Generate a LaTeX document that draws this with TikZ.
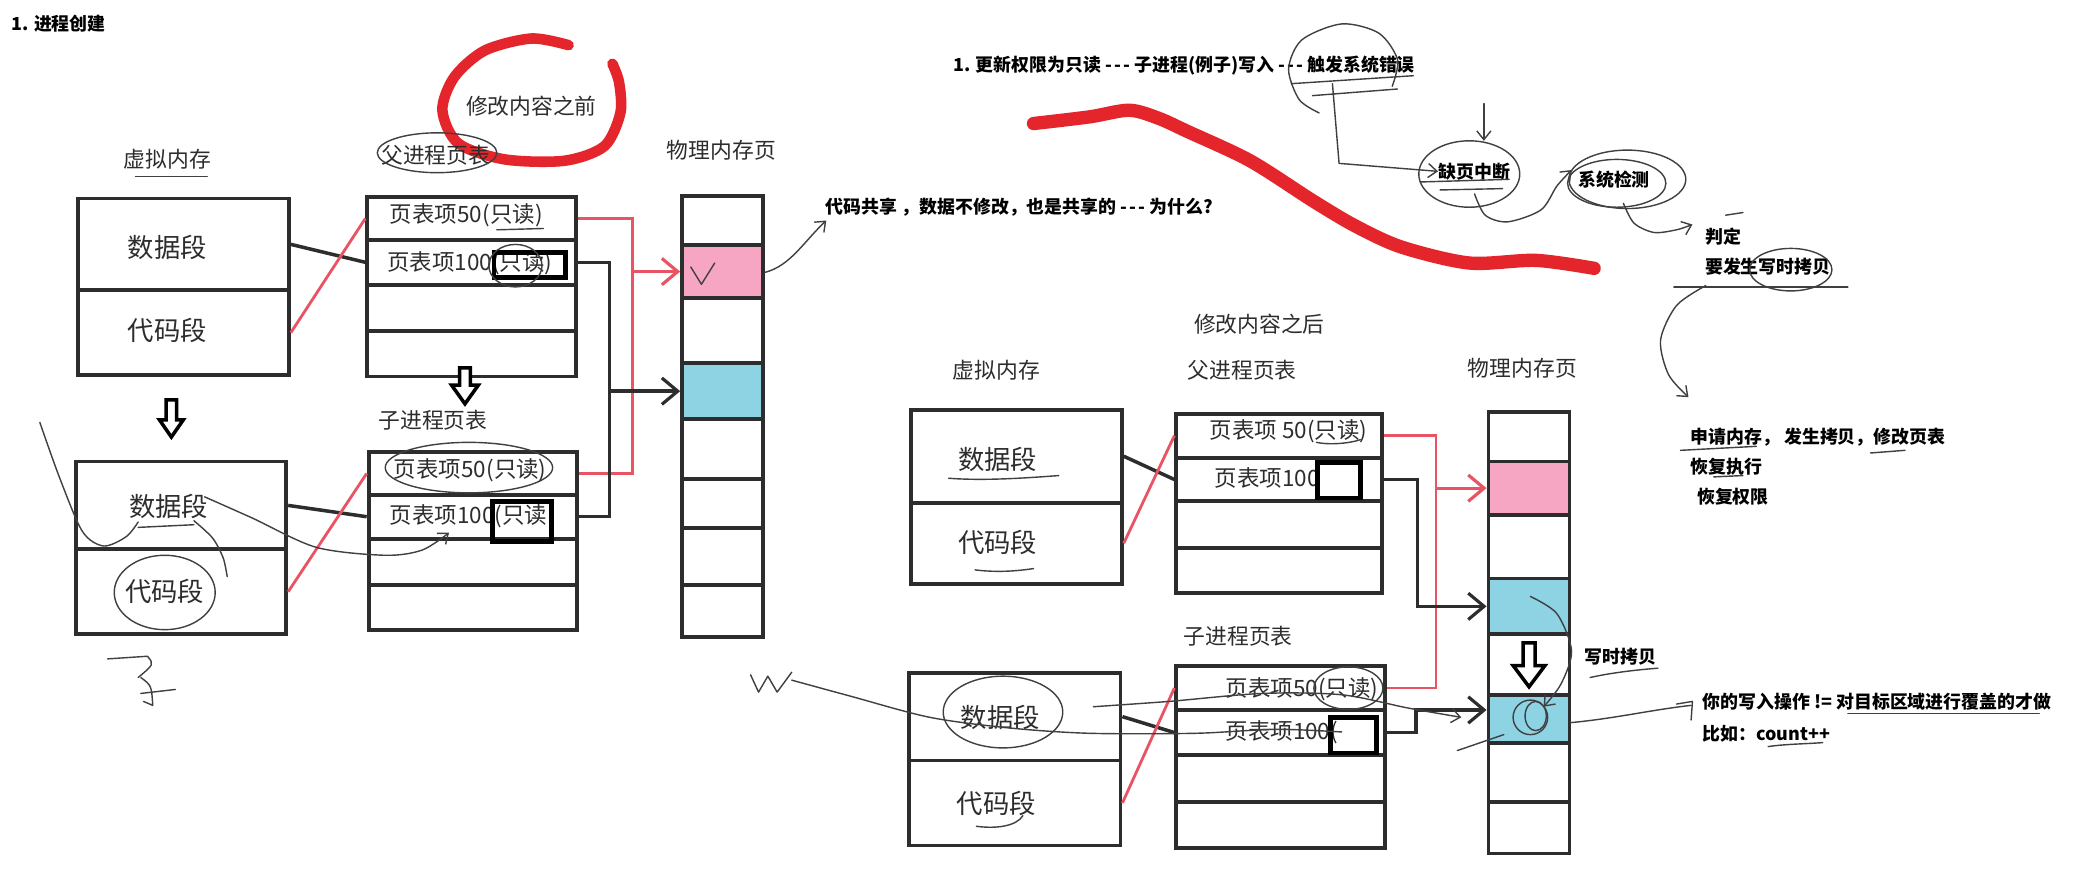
\documentclass[tikz,border=0pt]{standalone}
\usepackage{fontspec}
\newfontfamily\cjk{Noto Sans CJK SC}
\usetikzlibrary{arrows.meta,calc}
\definecolor{pinkc}{RGB}{246,166,194}
\definecolor{bluec}{RGB}{141,211,227}
\definecolor{redl}{RGB}{232,84,100}
\definecolor{markr}{RGB}{228,38,44}
\definecolor{ink}{RGB}{45,45,45}
\newcommand\ddd{\mbox{-}\kern0.12em\mbox{-}\kern0.12em\mbox{-}}
\tikzset{
 sz/.style 2 args={minimum width=#1*0.378pt, minimum height=#2*0.378pt},
 cell/.style={draw=ink, line width=1.1pt, inner sep=0pt, anchor=north west},
 robox/.style={draw=black, line width=1.4pt, inner sep=0pt, anchor=north west},
 lab/.style={font=\cjk\fontsize{6.2}{7}\selectfont, text=ink, inner sep=0pt},
 seg/.style={font=\cjk\fontsize{7.5}{8}\selectfont, text=ink, inner sep=0pt},
 rowt/.style={font=\cjk\fontsize{6.4}{7}\selectfont, text=ink, inner sep=0pt},
 note/.style={font=\cjk\bfseries\fontsize{5.1}{6}\selectfont, text=black, inner sep=0pt},
 hand/.style={draw=black!75, line width=0.4pt, line cap=round, line join=round},
 redc/.style={draw=redl, line width=0.8pt},
 blkc/.style={draw=ink, line width=1pt},
 tip/.style={-{Straight Barb[length=4.5pt,width=7.5pt,line width=0.9pt]}},
 smalltip/.style={-{Straight Barb[length=2.5pt,width=4pt]}},
 marker/.style={draw=markr, line width=3.8pt, line cap=round, line join=round},
 hollow/.style={draw=black, line width=1pt, fill=white, line join=miter},
}
\begin{document}
\begin{tikzpicture}[x=0.378pt,y=-0.378pt]
\fill[white] (0,0) rectangle (1568,674);
\useasboundingbox (0,0) rectangle (1568,674);

% ---------- title ----------
\node[note, anchor=west] (title) at (8,18) {1. 进程创建};

% ---------- LEFT: before ----------
\draw[marker, line width=3pt] plot[smooth] coordinates {(428,34) (400,29) (365,38) (342,58) (333,83) (345,108) (380,120) (425,121) (455,110) (467,85) (466,62) (461,48)};
\node[lab] (before) at (400,80) {修改内容之前};
\node[lab] (vmlab) at (126,120) {虚拟内存};
\node[lab] (pptlab) at (328,117) {父进程页表};
\node[lab] (pmlab) at (543,113) {物理内存页};
\node[lab] (cptlab) at (326,316) {子进程页表};

% virtual memory boxes
\node[cell, sz={159}{69}] (lvd) at (57,148) {};
\node[cell, sz={159}{64}] (lvc) at (57,217) {};
\node[cell, sz={158}{66}] (mvd) at (56,346) {};
\node[cell, sz={158}{64}] (mvc) at (56,412) {};
\node[seg] (lt1) at (126,186) {数据段};
\node[seg] (lt2) at (126,249) {代码段};
\node[seg] (lt3) at (127,381) {数据段};
\node[seg] (lt4) at (124,445) {代码段};

% parent page table (left)
\node[cell, sz={157}{32}] (pp1) at (275,147) {};
\node[cell, sz={157}{34}] (pp2) at (275,179) {};
\node[cell, sz={157}{35}] (pp3) at (275,213) {};
\node[cell, sz={157}{34}] (pp4) at (275,248) {};
\node[rowt] (pr1) at (351,162) {页表项50(只读)};
\node[rowt, anchor=west] (pr2) at (291,198) {页表项100(只读)};
\node[robox, sz={54}{19}] (ro1) at (370,188) {};

% child page table (left)
\node[cell, sz={157}{32}] (cp1) at (276,339) {};
\node[cell, sz={157}{33}] (cp2) at (276,371) {};
\node[cell, sz={157}{35}] (cp3) at (276,404) {};
\node[cell, sz={157}{34}] (cp4) at (276,439) {};
\node[rowt] (cr1) at (354,354) {页表项50(只读)};
\node[rowt, anchor=west] (cr2) at (293,389) {页表项100(只读};
\node[robox, sz={44}{30}] (ro2) at (369,376) {};

% physical memory (left)
\node[cell, sz={61}{37}] (pm1) at (512,146) {};
\node[cell, sz={61}{40}, fill=pinkc] (pm2) at (512,183) {};
\node[cell, sz={61}{49}] (pm3) at (512,223) {};
\node[cell, sz={61}{42}, fill=bluec] (pm4) at (512,272) {};
\node[cell, sz={61}{45}] (pm5) at (512,314) {};
\node[cell, sz={61}{37}] (pm6) at (512,359) {};
\node[cell, sz={61}{43}] (pm7) at (512,396) {};
\node[cell, sz={61}{39}] (pm8) at (512,439) {};

% hollow arrows (left)
\draw[hollow, shift={(129,301)}] (-4,0) -- (4,0) -- (4,15) -- (9,15) -- (0,28) -- (-9,15) -- (-4,15) -- cycle;
\draw[hollow, shift={(350,277)}] (-4,0) -- (4,0) -- (4,13) -- (10,13) -- (0,27) -- (-10,13) -- (-4,13) -- cycle;

% connectors (left)
\draw[blkc] (lvd.east) -- (pp2.west);
\draw[redc] (lvc.east) -- (pp1.west);
\draw[blkc] (mvd.east) -- (cp2.west);
\draw[redc] (mvc.east) -- (cp1.west);
\coordinate (rjA) at ($(pp1.east)+(41,0)$);
\draw[redc] (pp1.east) -- (rjA) |- (cp1.east);
\draw[redc, tip] (rjA |- pm2.west) -- (pm2.west);
\coordinate (bjA) at ($(pp2.east)+(24,0)$);
\draw[blkc] (pp2.east) -- (bjA) |- (cp2.east);
\draw[blkc, tip] (bjA |- pm4.west) -- (pm4.west);

% annotation (left)
\draw[hand] (520,201) -- (528,214) -- (538,198);
\node[note, anchor=west] (q1) at (621,156) {代码共享 ，数据不修改，也是共享的 \ddd{} 为什么?};
\draw[hand, smalltip] (576,205) .. controls (595,200) and (605,182) .. (622,166);

% hand marks (left)
\draw[hand] (102,133) -- (156,133);
\draw[hand] (329,115) ellipse [x radius=45, y radius=15];
\draw[hand] (374,173) -- (409,172);
\draw[hand] (388,200) ellipse [x radius=20, y radius=16];
\draw[hand] (353,352) ellipse [x radius=63, y radius=19];
\draw[hand] plot[smooth] coordinates {(30,318) (45,360) (62,400) (78,411) (95,404) (104,393)};
\draw[hand] (104,397) -- (146,395);
\draw[hand] plot[smooth] coordinates {(146,392) (160,405) (168,420) (171,434)};
\draw[hand, smalltip] plot[smooth] coordinates {(154,374) (190,390) (238,412) (290,418) (318,414) (338,401)};
\draw[hand] (124,446) ellipse [x radius=38, y radius=28];
\draw[hand] (81,496) -- (111,494) .. controls (116,500) .. (104,510);
\draw[hand] (106,522) -- (132,519);
\draw[hand] (106,510) .. controls (114,516) .. (115,531) -- (108,528);

% ---------- TOP RIGHT notes ----------
\draw[marker] plot[smooth] coordinates {(778,93) (820,88) (850,83) (872,89) (894,99) (941,121) (988,151) (1020,170) (1055,186) (1106,198) (1156,196) (1200,202)};
\node[note, anchor=west] (n1) at (717,49) {1. 更新权限为只读 \ddd{} 子进程(例子)写入 \ddd{} 触发系统错误};
\draw[hand] plot[smooth] coordinates {(993,85) (978,75) (970,52) (980,30) (1010,18) (1038,25) (1052,45) (1048,65)};
\draw[hand] (972,63) -- (1064,57);
\draw[hand] (988,72) -- (1052,67);
\node[note] (n2) at (1110,129) {缺页中断};
\draw[hand, smalltip] (1003,63) -- (1008,123) -- (n2.west);
\draw[hand, smalltip] (1117,78) -- (1117,106);
\draw[hand] (1106,131) ellipse [x radius=38, y radius=25];
\draw[hand] (1069,137) -- (1136,135);
\draw[hand] (1084,143) -- (1131,142);
\node[note] (n3) at (1215,135) {系统检测};
\draw[hand, smalltip] plot[smooth] coordinates {(1110,146) (1118,162) (1135,167) (1160,158) (1172,140) (1183,128)};
\draw[hand] (1225,135) ellipse [x radius=44, y radius=22];
\draw[hand] (1217,138) ellipse [x radius=37, y radius=18];
\node[note, anchor=west] (n4) at (1283,178) {判定};
\node[note, anchor=west] (n5) at (1283,201) {要发生写时拷贝};
\draw[hand, smalltip] plot[smooth] coordinates {(1222,153) (1230,168) (1245,175) (1262,173) (1274,169)};
\draw[hand] (1299,162) -- (1312,160);
\draw[hand] (1348,203) ellipse [x radius=31, y radius=16];
\draw[hand] (1260,216) -- (1391,216);
\draw[hand, smalltip] plot[smooth] coordinates {(1284,215) (1262,230) (1250,256) (1256,282) (1271,299)};
\node[note, anchor=west] (n6) at (1272,329) {申请内存， 发生拷贝，修改页表};
\node[note, anchor=west] (n7) at (1272,351) {恢复执行};
\node[note, anchor=west] (n8) at (1277,374) {恢复权限};
\draw[hand] (1265,339) -- (1322,336);
\draw[hand] (1408,341) -- (1434,339);
\draw[hand] (1290,359) -- (1312,358);

% ---------- RIGHT: after ----------
\node[lab] (after) at (948,244) {修改内容之后};
\node[lab] (vmlab2) at (750,279) {虚拟内存};
\node[lab] (pptlab2) at (935,279) {父进程页表};
\node[lab] (pmlab2) at (1146,277) {物理内存页};
\node[lab] (cptlab2) at (932,479) {子进程页表};

\node[cell, sz={159}{70}] (rvd) at (684,307) {};
\node[cell, sz={159}{61}] (rvc) at (684,377) {};
\node[cell, sz={159}{66}] (svd) at (683,505) {};
\node[cell, sz={159}{64}] (svc) at (683,571) {};
\node[seg] (rt1) at (751,346) {数据段};
\node[seg] (rt2) at (751,408) {代码段};
\node[seg] (rt3) at (753,540) {数据段};
\node[seg] (rt4) at (750,605) {代码段};

\node[cell, sz={155}{33}] (pq1) at (884,310) {};
\node[cell, sz={155}{33}] (pq2) at (884,343) {};
\node[cell, sz={155}{35}] (pq3) at (884,376) {};
\node[cell, sz={155}{34}] (pq4) at (884,411) {};
\node[rowt] (prr1) at (970,325) {页表项 50(只读)};
\node[rowt, anchor=west] (prr2) at (914,360) {页表项100};
\node[robox, sz={32}{27}] (ro3) at (990,346) {};

\node[cell, sz={157}{33}] (cq1) at (884,500) {};
\node[cell, sz={157}{34}] (cq2) at (884,533) {};
\node[cell, sz={157}{35}] (cq3) at (884,567) {};
\node[cell, sz={157}{35}] (cq4) at (884,602) {};
\node[rowt, anchor=east] (crr1) at (1038,519) {页表项50(只读)};
\node[rowt, anchor=west] (crr2) at (922,551) {页表项100(};
\node[robox, sz={34}{27}] (ro4) at (1000,538) {};

\node[cell, sz={61}{37}] (qm1) at (1119,309) {};
\node[cell, sz={61}{40}, fill=pinkc] (qm2) at (1119,346) {};
\node[cell, sz={61}{48}] (qm3) at (1119,386) {};
\node[cell, sz={61}{42}, fill=bluec] (qm4) at (1119,434) {};
\node[cell, sz={61}{46}] (qm5) at (1119,476) {};
\node[cell, sz={61}{36}, fill=bluec] (qm6) at (1119,522) {};
\node[cell, sz={61}{44}] (qm7) at (1119,558) {};
\node[cell, sz={61}{39}] (qm8) at (1119,602) {};
\draw[hollow, shift={(1151,484)}] (-4.5,0) -- (4.5,0) -- (4.5,17) -- (12,17) -- (0,33) -- (-12,17) -- (-4.5,17) -- cycle;

% connectors (right)
\draw[blkc] (rvd.east) -- (pq2.west);
\draw[redc] (rvc.east) -- (pq1.west);
\draw[blkc] (svd.east) -- (cq2.west);
\draw[redc] (svc.east) -- (cq1.west);
\coordinate (rjB) at ($(pq1.east)+(39,0)$);
\draw[redc] (pq1.east) -- (rjB) |- (cq1.east);
\draw[redc, tip] (rjB |- qm2.west) -- (qm2.west);
\coordinate (bjB) at ($(pq2.east)+(25,0)$);
\draw[blkc, tip] (pq2.east) -- (bjB) |- (qm4.west);
\coordinate (bjC) at ($(cq2.east)+(22,0)$);
\coordinate (bkC) at ($(bjC)+(0,-17)$);
\draw[blkc, tip] (cq2.east) -- (bjC) -- (bkC) -- (bkC -| qm6.west);

% hand marks (right)
\draw[hand] (714,360) .. controls (740,362) and (770,360) .. (797,358);
\draw[hand] (734,429) .. controls (750,431) and (765,430) .. (778,428);
\draw[hand] (991,333) .. controls (1000,335) and (1015,334) .. (1024,331);
\draw[hand] (755,536) ellipse [x radius=45, y radius=27];
\draw[hand] (735,622) .. controls (750,624) and (765,622) .. (770,614);
\draw[hand] (1015,518) ellipse [x radius=26, y radius=16];
\draw[hand] (565,508) -- (571,521) -- (578,509) -- (585,521) -- (596,506);
\draw[hand] plot[smooth] coordinates {(596,512) (640,524) (700,540) (760,548) (820,552) (900,552) (960,549) (1010,551)};
\draw[hand, smalltip] plot[smooth] coordinates {(823,532) (880,528) (950,522) (1010,523) (1060,533) (1100,540)};
\draw[hand] (1097,565) -- (1132,553);
\draw[hand] (1152,540) circle [radius=13];
\draw[hand] (1156,539) ellipse [x radius=8, y radius=11];
\draw[hand, smalltip] plot[smooth] coordinates {(1152,449) (1172,462) (1183,490) (1175,515) (1162,532)};

\node[note] (n9) at (1220,494) {写时拷贝};
\draw[hand] (1197,510) .. controls (1215,506) and (1235,504) .. (1248,503);
\node[note, anchor=west] (n10) at (1281,528) {你的写入操作 != 对目标区域进行覆盖的才做};
\node[note, anchor=west] (n11) at (1281,552) {比如：count++};
\draw[hand] (1391,537) -- (1535,537);
\draw[hand] (1331,562) .. controls (1345,560) and (1360,560) .. (1372,559);
\draw[hand] (1182,544) .. controls (1215,541) and (1245,534) .. (1273,531);
\draw[hand] (1262,530) -- (1274,528) -- (1273,542);
\end{tikzpicture}
\end{document}
